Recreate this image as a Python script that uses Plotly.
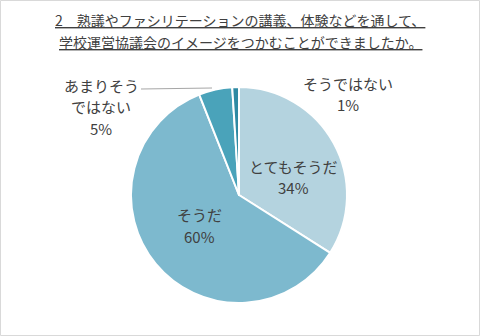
import plotly.graph_objects as go

# Survey responses (share of respondents, %)
labels = ["とてもそうだ", "そうだ", "あまりそうではない", "そうではない"]
values = [34, 60, 5, 1]
colors = ["#B4D3DF", "#7DB9CE", "#4AA3BA", "#2F8AA3"]

title_lines = [
    "2　熟議やファシリテーションの講義、体験などを通して、",
    "学校運営協議会のイメージをつかむことができましたか。",
]

FONT = "Noto Sans CJK JP"
TEXT_COLOR = "#404040"

W, H = 480, 336
cx, cy, r = 239, 195, 108  # pie centre / radius in px

fig = go.Figure(
    go.Pie(
        labels=labels,
        values=values,
        sort=False,
        direction="clockwise",
        rotation=0,
        marker=dict(colors=colors, line=dict(color="white", width=2)),
        textinfo="none",
        hoverinfo="label+percent",
        showlegend=False,
        domain=dict(x=[(cx - r) / W, (cx + r) / W], y=[(H - cy - r) / H, (H - cy + r) / H]),
    )
)

total = sum(values)


def pct(i):
    return f"{round(values[i] / total * 100)}%"


# data labels: (lines, centre x, first-line centre y) in px
label_blocks = [
    ([labels[0], pct(0)], 293, 166),
    ([labels[1], pct(1)], 199, 215),
    (["あまりそう", "ではない", pct(2)], 101, 85),
    ([labels[3], pct(3)], 348, 83),
]
LINE_STEP = 21.5

annotations = []
for lines, x, y0 in label_blocks:
    for k, line in enumerate(lines):
        annotations.append(dict(
            x=x / W, y=1 - (y0 + k * LINE_STEP) / H, xref="paper", yref="paper",
            text=line, showarrow=False,
            font=dict(family=FONT, size=15, color=TEXT_COLOR),
            xanchor="center", yanchor="middle",
        ))

# title, two underlined lines
for k, line in enumerate(title_lines):
    annotations.append(dict(
        x=0.5, y=1 - (20 + k * 22) / H, xref="paper", yref="paper", showarrow=False,
        text="<u>" + line + "</u>",
        font=dict(family=FONT, size=14, color=TEXT_COLOR),
        xanchor="center", yanchor="middle",
    ))

shapes = [
    # leader line for the small slice
    dict(type="line", xref="paper", yref="paper",
         x0=141 / W, y0=1 - 89 / H, x1=212 / W, y1=1 - 88 / H,
         line=dict(color="#A6A6A6", width=1)),
    # chart frame
    dict(type="rect", xref="paper", yref="paper",
         x0=0.5 / W, y0=0.5 / H, x1=1 - 0.5 / W, y1=1 - 0.5 / H,
         line=dict(color="#D9D9D9", width=1)),
]

fig.update_layout(
    width=W, height=H,
    margin=dict(l=0, r=0, t=0, b=0),
    paper_bgcolor="white",
    plot_bgcolor="white",
    annotations=annotations,
    shapes=shapes,
)

fig.write_html("out.html")
